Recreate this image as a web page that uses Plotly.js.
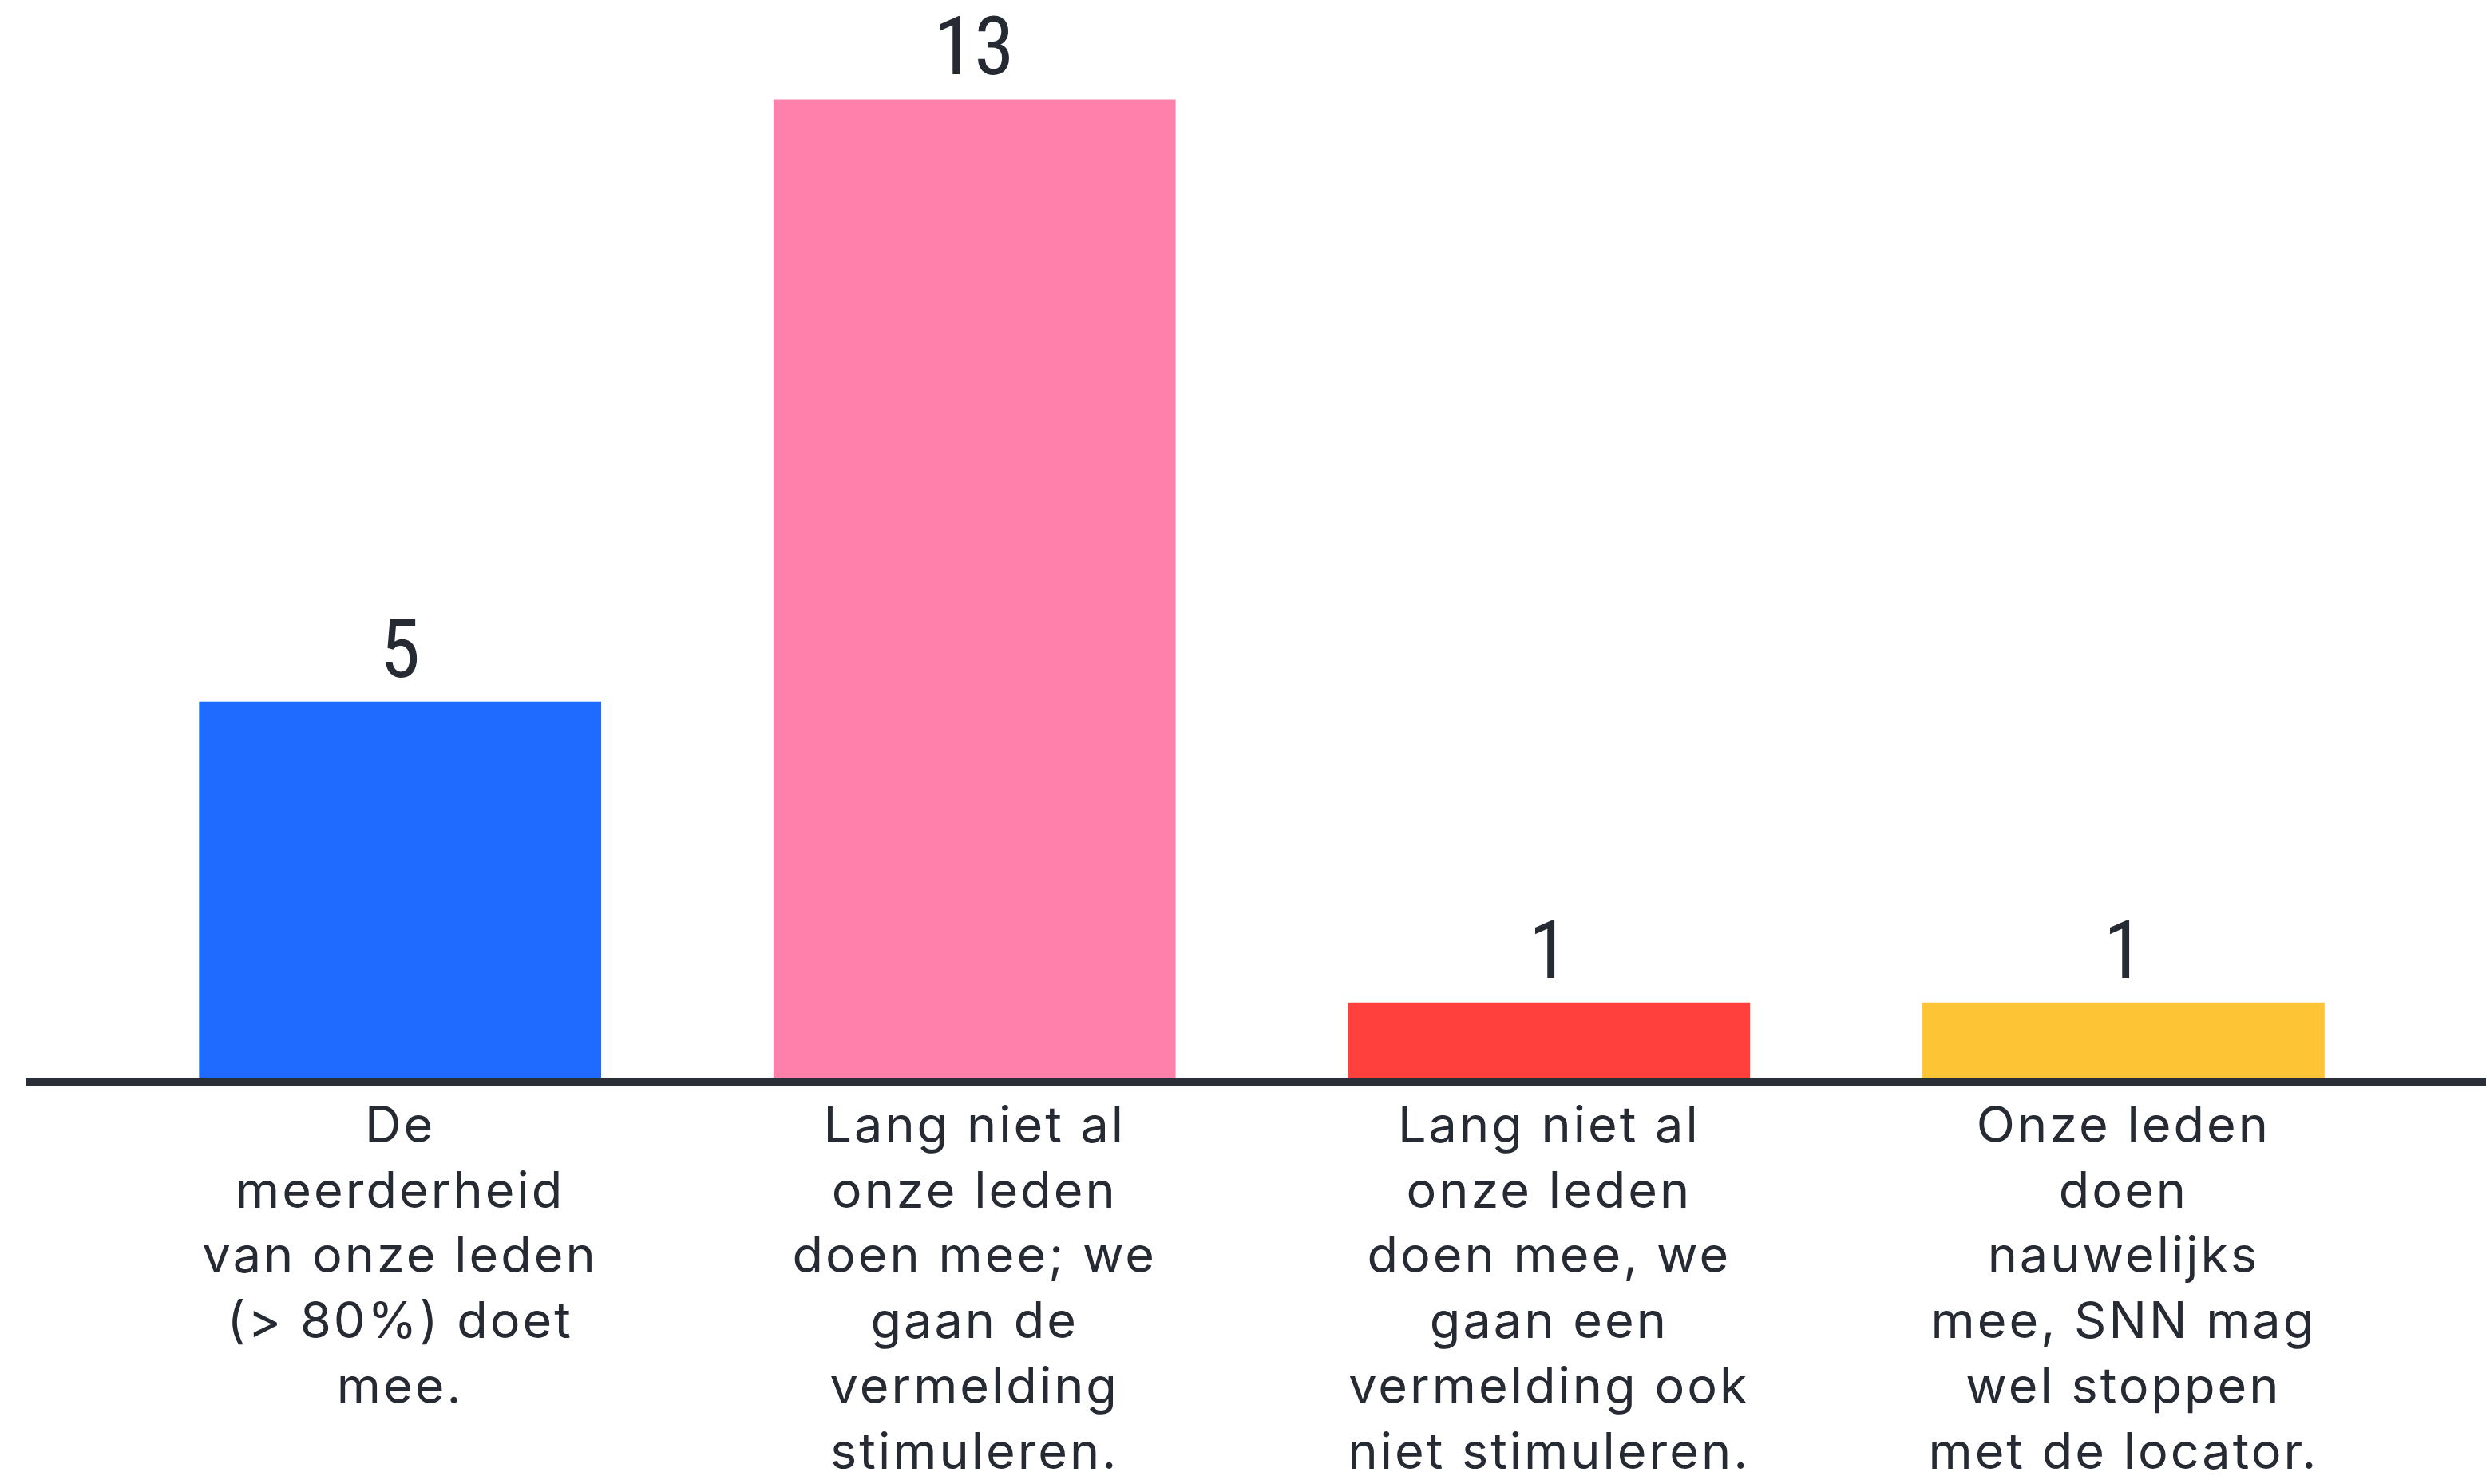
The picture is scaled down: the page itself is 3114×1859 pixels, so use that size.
<!DOCTYPE html>
<html>
<head>
<meta charset="utf-8">
<script src="https://cdn.plot.ly/plotly-3.0.1.min.js"></script>
<style>
html,body{margin:0;padding:0;background:#fff;}
#chart{width:3114px;height:1859px;}
#chart .xtick text{letter-spacing:3px;}
</style>
</head>
<body>
<div id="chart"></div>
<script>
const categories = [
  "De<br>meerderheid<br>van onze leden<br>(> 80%) doet<br>mee.",
  "Lang niet al<br>onze leden<br>doen mee; we<br>gaan de<br>vermelding<br>stimuleren.",
  "Lang niet al<br>onze leden<br>doen mee, we<br>gaan een<br>vermelding ook<br>niet stimuleren.",
  "Onze leden<br>doen<br>nauwelijks<br>mee, SNN mag<br>wel stoppen<br>met de locator."
];
const values = [5, 13, 1, 1];
const colors = ["#1f6bff", "#ff80aa", "#ff403d", "#fdc536"];

const textColor = "#262a33";
const valueFont = {family: "'Liberation Sans Narrow', 'Roboto Condensed', 'DejaVu Sans Condensed', Roboto, sans-serif", size: 102, color: textColor};

const annotations = categories.map((c, i) => ({
  x: c, y: values[i], xref: "x", yref: "y",
  text: String(values[i]), showarrow: false,
  yanchor: "bottom", yshift: 4,
  font: valueFont
}));

const data = [{
  type: "bar",
  x: categories,
  y: values,
  marker: {color: colors, line: {width: 0}},
  hoverinfo: "none"
}];

const layout = {
  width: 3114, height: 1859,
  margin: {l: 32, r: 0, t: 0, b: 509, pad: 0},
  paper_bgcolor: "#ffffff", plot_bgcolor: "#ffffff",
  bargap: 0.3,
  showlegend: false,
  xaxis: {
    type: "category",
    range: [-0.652, 3.631],
    showline: true, linecolor: "#2a2e37", linewidth: 11,
    ticks: "", showgrid: false, zeroline: false,
    ticklabelstandoff: -6,
    tickfont: {family: "Inter, 'Noto Sans', sans-serif", size: 63, color: textColor},
    tickangle: 0
  },
  yaxis: {
    range: [0, 14.32],
    visible: false, showgrid: false, zeroline: false
  },
  annotations: annotations
};

Plotly.newPlot("chart", data, layout, {staticPlot: true, displayModeBar: false});
</script>
</body>
</html>
